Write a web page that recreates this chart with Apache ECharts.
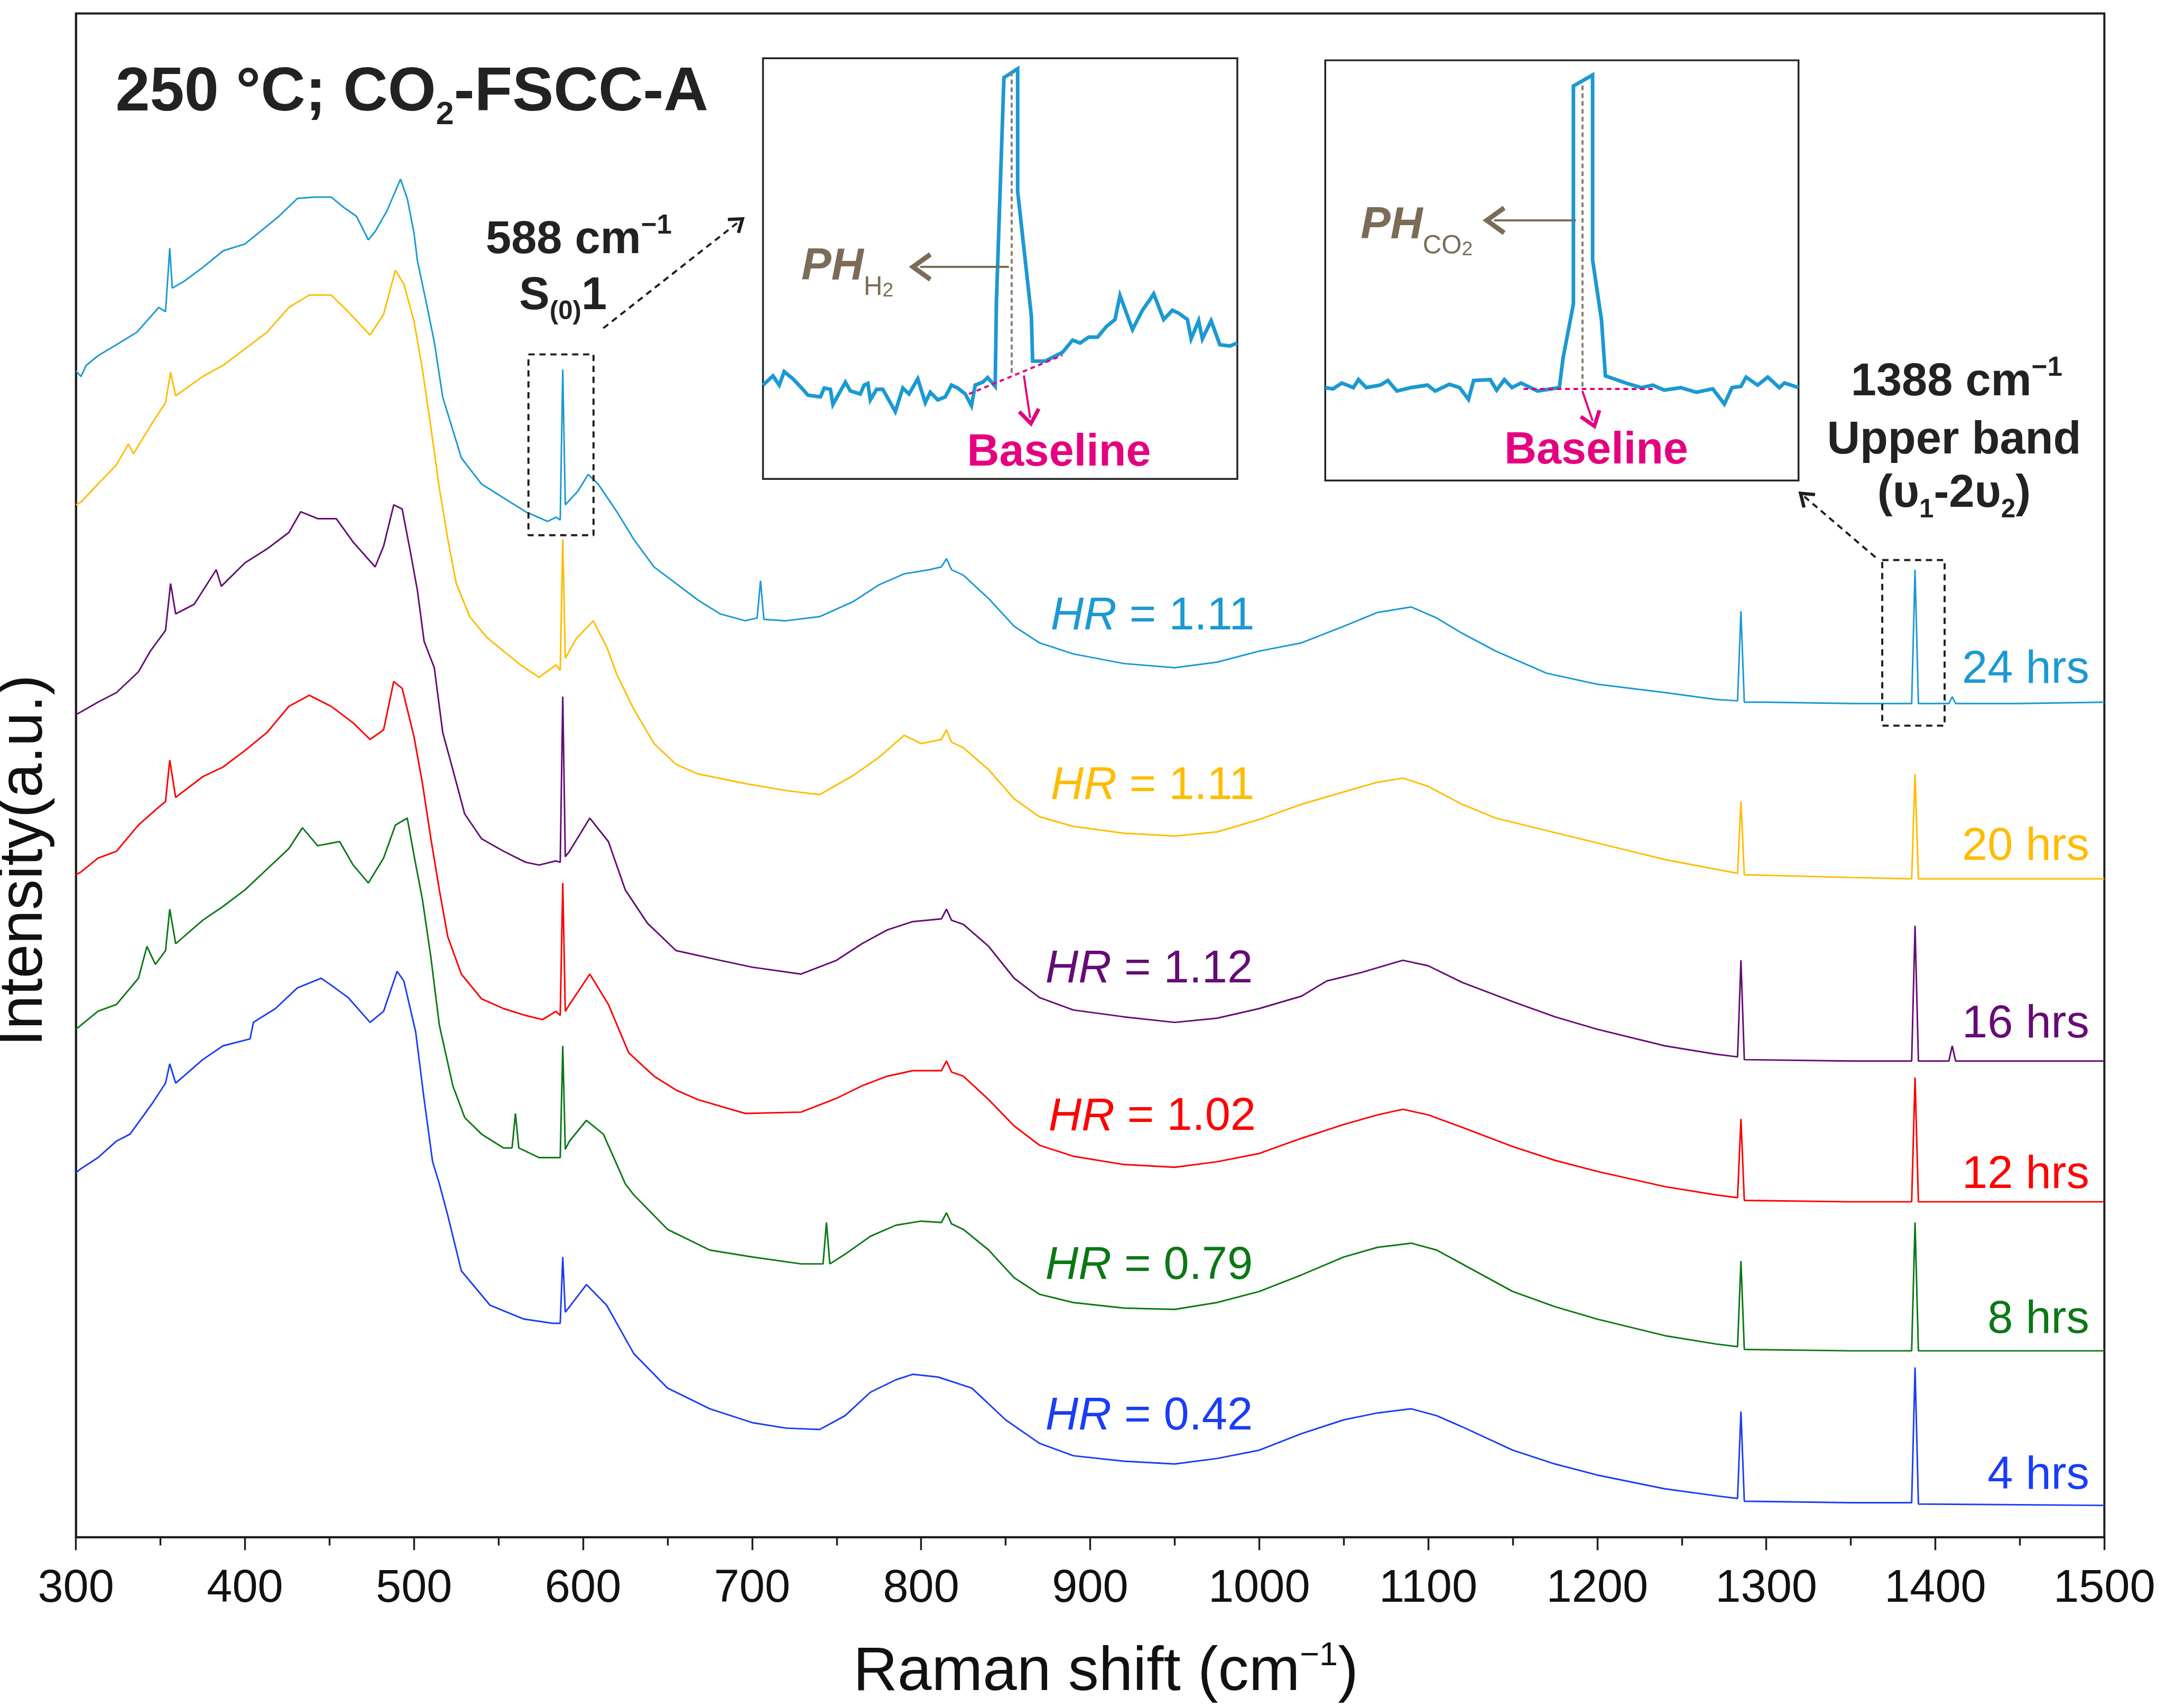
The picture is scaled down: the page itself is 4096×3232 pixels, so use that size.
<!DOCTYPE html>
<html><head><meta charset="utf-8">
<script src="https://cdn.jsdelivr.net/npm/echarts@6/dist/echarts.min.js"></script>
<style>html,body{margin:0;padding:0;background:#fff}#c{width:4096px;height:3232px}</style>
</head><body><div id="c"></div>
<script>
// ---------------- DATA ----------------
const hours = ['24 hrs', '20 hrs', '16 hrs', '12 hrs', '8 hrs', '4 hrs'];
const hrValues = ['1.11', '1.11', '1.12', '1.02', '0.79', '0.42'];
const xRange = [300, 1500];
const xStep = 100;

const spec24 = [[300,845],[303,841],[306,849],[313,856],[324,864],[336,873],[349,891],[353,888],[355.5,934],[357,905],[364,910],[375,920],[387,932],[400,937],[410,947],[420,957],[431,970],[441,971],[451,971],[459,963],[466,957],[473,940],[477,946],[484,961],[492,984],[496,970],[500,945],[502,925],[507,896],[512,866],[517,826],[523,802],[528,782],[540,763],[553,753],[566,743],[579,736],[584,739],[586.5,737],[588,846],[589.5,748],[597,758],[603,770],[609,763],[620,743],[630,723],[642,703],[655,691],[668,679],[681,669],[696,664],[703,666],[705,693],[707,665],[720,664],[740,667],[760,678],[775,690],[790,698],[805,701],[812,703],[815,709],[818,701],[825,697],[840,680],[855,660],[870,648],[890,640],[920,633],[950,630],[975,634],[1000,642],[1025,648],[1050,660],[1070,670],[1090,674],[1105,666],[1120,655],[1140,642],[1170,626],[1200,618],[1240,612],[1270,607],[1283,606],[1285,671],[1287,605],[1300,605],[1350,604],[1386,604],[1388,701],[1390,604],[1408,604],[1410,609],[1412,604],[1450,604],[1500,605]];
const spec20 = [[300,748],[303,750],[313,763],[324,777],[331,792],[334,785],[345,807],[353,822],[356,844],[359,827],[375,841],[387,849],[400,861],[413,873],[426,891],[438,900],[451,900],[461,888],[474,871],[482,886],[489,918],[494,908],[500,881],[505,846],[510,804],[515,760],[520,723],[525,691],[533,667],[543,652],[553,642],[563,632],[574,623],[584,632],[586.5,628],[588,723],[589.5,637],[596,651],[606,664],[614,645],[620,625],[630,600],[642,575],[655,560],[668,553],[696,546],[720,541],[740,538],[760,552],[775,565],[790,581],[800,575],[812,578],[815,585],[818,576],[825,572],[840,556],[855,535],[870,522],[890,515],[920,510],[950,508],[975,511],[1000,520],[1025,531],[1050,540],[1070,547],[1085,550],[1100,544],[1120,531],[1140,521],[1170,512],[1200,503],[1240,491],[1270,484],[1283,481],[1285,533],[1287,480],[1350,478],[1386,477],[1388,553],[1390,477],[1500,477]];
const spec16 = [[300,596],[303,598],[313,605],[324,612],[337,627],[344,642],[353,657],[356,691],[359,669],[370,676],[383,701],[386,689],[400,706],[413,716],[426,728],[433,743],[443,738],[454,738],[464,721],[477,703],[482,718],[488,748],[493,745],[498,713],[502,686],[506,649],[512,630],[517,583],[523,556],[530,524],[540,506],[553,497],[566,489],[574,487],[584,490],[586.5,489],[588,609],[589.5,493],[592,497],[604,521],[615,504],[625,469],[638,445],[655,425],[681,418],[700,413],[729,408],[750,418],[765,430],[780,440],[795,446],[812,448],[815,455],[818,447],[825,444],[840,428],[855,405],[870,391],[890,382],[920,377],[950,373],[975,376],[1000,383],[1025,392],[1040,403],[1060,409],[1085,418],[1100,414],[1120,402],[1150,388],[1175,377],[1200,368],[1240,356],[1270,350],[1283,348],[1285,418],[1287,346],[1350,345],[1386,345],[1388,443],[1390,345],[1408,345],[1410,356],[1412,345],[1500,345]];
const spec12 = [[300,480],[303,482],[313,492],[324,497],[337,516],[349,529],[353,533],[355.5,563],[359,536],[375,551],[387,558],[400,570],[413,583],[426,602],[438,610],[451,602],[464,590],[474,578],[482,585],[488,620],[493,615],[500,580],[505,546],[510,506],[515,469],[520,435],[528,408],[540,390],[553,383],[566,378],[576,375],[584,381],[586.5,378],[588,474],[589.5,381],[592,386],[604,408],[615,386],[627,351],[642,334],[655,324],[668,317],[696,307],[729,308],[750,318],[765,327],[780,334],[795,338],[812,338],[815,345],[818,337],[825,334],[840,317],[855,298],[870,284],[890,276],[920,270],[950,268],[975,272],[1000,278],[1025,289],[1050,299],[1070,306],[1085,310],[1100,306],[1120,297],[1150,283],[1175,273],[1200,265],[1240,254],[1270,248],[1283,246],[1285,303],[1287,244],[1350,243],[1386,243],[1388,333],[1390,243],[1500,243]];
const spec8 = [[300,368],[303,371],[313,381],[324,386],[337,405],[342,428],[347,415],[353,425],[355.5,455],[359,430],[375,447],[387,457],[400,469],[413,484],[426,499],[434,514],[443,501],[456,504],[464,487],[473,474],[482,492],[489,516],[496,521],[500,494],[505,462],[510,420],[515,371],[523,327],[530,304],[540,292],[553,282],[558,282],[560,307],[562,282],[574,275],[584,275],[586.5,275],[588,356],[589.5,281],[592,287],[602,302],[612,292],[620,270],[625,256],[630,248],[650,223],[675,208],[700,203],[729,198],[742,198],[744,228],[746,198],[755,205],[770,218],[785,226],[800,229],[812,228],[815,235],[818,227],[825,223],[840,208],[855,188],[870,176],[890,170],[920,166],[950,165],[975,170],[1000,178],[1025,190],[1050,203],[1070,210],[1090,213],[1105,208],[1120,198],[1150,178],[1175,167],[1200,158],[1240,146],[1270,140],[1283,138],[1285,200],[1287,136],[1350,135],[1386,135],[1388,228],[1390,135],[1500,135]];
const spec4 = [[300,264],[303,267],[313,275],[324,287],[332,292],[345,314],[353,329],[355.5,343],[359,329],[375,346],[387,356],[403,361],[405,373],[418,383],[431,398],[445,405],[451,400],[461,391],[474,373],[482,381],[490,410],[494,403],[501,366],[506,317],[511,272],[515,256],[520,233],[528,193],[545,168],[565,158],[582,155],[586.5,155],[588,203],[589.5,163],[602,183],[614,168],[630,133],[650,108],[675,93],[700,83],[720,79],[740,78],[755,88],[770,105],[785,114],[795,118],[810,116],[830,108],[850,85],[870,68],[890,59],[920,55],[950,53],[975,57],[1000,63],[1025,75],[1050,85],[1070,90],[1090,93],[1105,88],[1120,80],[1150,63],[1175,53],[1200,45],[1240,35],[1270,30],[1283,28],[1285,91],[1287,26],[1350,25],[1386,25],[1388,123],[1390,24],[1500,23]];

// zoomed views (inset units: 0..100)
const inset588 = [[568,22.3],[568.8,24.5],[569.3,22.3],[569.7,25.5],[570.4,23.8],[571.1,21.6],[571.6,19.9],[572.6,19.5],[572.9,21.6],[573.4,21.3],[573.6,17.7],[574.6,23],[575,20.9],[575.8,20.2],[576.1,22.3],[576.4,22.7],[576.6,18.8],[577.1,21.3],[577.6,21.3],[578.6,16],[579.2,21.6],[579.7,20.2],[580.4,23.8],[581,18.1],[581.4,20.6],[582,18.8],[582.6,19.5],[583.1,22.3],[583.6,21.6],[584.2,20.2],[584.7,17.4],[585,22.3],[585.6,23],[586,24.1],[586.6,22],[586.7,42.2],[587.3,95.4],[588.4,97.5],[588.4,68.4],[589.5,38.7],[589.6,28],[590.6,28],[592,30.1],[592.8,33],[593.4,32.3],[594.1,33.7],[594.8,33.7],[595.5,36.2],[596.2,37.9],[596.6,43.6],[597.6,35.5],[598.4,40.1],[598.9,42.2],[599.3,44],[600.1,37.9],[600.8,40.1],[601.3,39.4],[602,37.9],[602.3,33.3],[602.9,37.6],[603.2,33.3],[603.9,37.6],[604.6,31.9],[605.4,31.6],[606,32.3]];
const inset1388 = [[1369,22.1],[1369.6,21.8],[1370.3,23.2],[1371.2,22.1],[1371.6,24],[1372.2,22.1],[1373.3,22.7],[1373.9,23.8],[1374.6,21.3],[1375.7,22.1],[1377,22.7],[1377.6,21.3],[1378.7,22.9],[1379.5,22.1],[1380.2,19.3],[1380.6,23.8],[1381.9,24],[1382.4,21.5],[1383,24],[1383.6,22.1],[1384.3,23.2],[1385.6,21.3],[1387.3,22.1],[1387.6,29.3],[1388.4,42],[1388.4,93.9],[1389.9,96.5],[1389.9,52.5],[1390.6,38.1],[1390.9,24.9],[1392.5,23.2],[1393.7,22.1],[1394.6,22.7],[1395.5,21.5],[1396.8,22.1],[1398,21],[1399.3,21.8],[1400.2,18.2],[1400.8,22.1],[1401.5,22.4],[1401.9,24.6],[1402.8,22.7],[1403.6,24.6],[1404.5,22.1],[1404.9,23.2],[1406,22.1]];

// annotation geometry in data units
const box588 = [[567.7,857],[606.2,857],[606.2,726],[567.7,726],[567.7,857]];
const box1388 = [[1368.6,708],[1405.5,708],[1405.5,588],[1368.6,588],[1368.6,708]];
const arrow588 = [[612,876],[692,953]];
const arrow1388 = [[1364.6,710],[1322.5,754]];
const in1Peak = [[587.9,96.8],[587.9,24.8]];
const in1Base = [[584.5,20.2],[592,29.4]];
const in1Down = [[588.9,24.6],[589.4,14.5]];
const in1Left = [[587.7,50.4],[580.6,50.4]];
const in2Peak = [[1389.1,94],[1389.1,22]];
const in2Base = [[1384.5,21.8],[1394.6,21.8]];
const in2Down = [[1389.1,21.3],[1389.9,14.2]];
const in2Left = [[1388.6,61.9],[1382.2,61.9]];

// ---------------- STYLE ----------------
const S = 0.984;
const s = v => v * S;
const FONT = "'Liberation Sans', Arial, Helvetica, sans-serif";
const f = (size, weight, style) => `${style || 'normal'} ${weight || 'normal'} ${s(size)}px ${FONT}`;
const colors = ['#1a99d3', '#ffbc00', '#650b76', '#ff0000', '#0b7815', '#1a3df5'];
const PINK = '#e4007f', BROWN = '#7b6c58', DARK = '#1e1e1e';
const CHEV = 'path://M50,0 L100,88 L86,100 L50,36 L14,100 L0,88 Z';

const specs = [spec24, spec20, spec16, spec12, spec8, spec4];

const chart = echarts.init(document.getElementById('c'), null, {renderer: 'canvas'});

function ml(pts, lineStyle, endSym, endSize) {
  return [
    {coord: pts[0], lineStyle: lineStyle, symbol: 'none'},
    {coord: pts[1], symbol: endSym || 'none', symbolSize: endSize || 0}
  ];
}

const series = specs.map((d, i) => ({
  type: 'line', name: hours[i], xAxisIndex: 0, yAxisIndex: 0, data: d,
  showSymbol: false, symbol: 'none', silent: true, z: 3 + i,
  lineStyle: {color: colors[i], width: s(3)}
}));

const dashMain = {type: [s(12), s(9)], width: s(4), color: DARK};
series.push({
  type: 'line', xAxisIndex: 0, yAxisIndex: 0, data: box588, showSymbol: false, symbol: 'none', silent: true, z: 10,
  lineStyle: dashMain,
  markLine: {silent: true, symbol: 'none', label: {show: false}, animation: false,
    data: [ml(arrow588, dashMain, CHEV, [s(38), s(30)])]}
});
series.push({
  type: 'line', xAxisIndex: 0, yAxisIndex: 0, data: box1388, showSymbol: false, symbol: 'none', silent: true, z: 10,
  lineStyle: dashMain,
  markLine: {silent: true, symbol: 'none', label: {show: false}, animation: false,
    data: [ml(arrow1388, dashMain, CHEV, [s(38), s(30)])]}
});

function insetSeries(idx, data, peak, base, down, left) {
  return {
    type: 'line', xAxisIndex: idx, yAxisIndex: idx, data: data, showSymbol: false, symbol: 'none', silent: true, z: 20,
    lineStyle: {color: '#1a99d3', width: s(7), join: 'miter'},
    markLine: {silent: true, symbol: 'none', label: {show: false}, animation: false, z: 21,
      data: [
        ml(peak, {color: '#8c7f70', type: [s(9), s(6)], width: s(4)}),
        ml(base, {color: PINK, type: [s(9), s(7)], width: s(4)}),
        ml(down, {color: PINK, type: 'solid', width: s(4)}, CHEV, [s(44), s(34)]),
        ml(left, {color: BROWN, type: 'solid', width: s(4)}, CHEV, [s(56), s(44)])
      ]}
  };
}
series.push(insetSeries(1, inset588, in1Peak, in1Base, in1Down, in1Left));
series.push(insetSeries(2, inset1388, in2Peak, in2Base, in2Down, in2Left));

// ---------------- TEXT ----------------
const texts = [];
function T(x, y, text, font, fill, align, extra) {
  const el = {type: 'text', x: s(x), y: s(y), z: 100, silent: true,
    style: Object.assign({text: text, font: font, fill: fill, align: align || 'left', verticalAlign: 'middle'}, extra || {})};
  texts.push(el);
  return el;
}
// title
T(222, 180, '250 °C; CO{sub|2}-FSCC-A', f(119, 'bold'), '#222', 'left', {
  lineHeight: s(145), rich: {sub: {font: f(62, 'bold'), fill: '#222', lineHeight: s(62), verticalAlign: 'bottom'}}});
// axis titles
T(2126, 3217, 'Raman shift (cm{sup|−1})', f(118), '#111', 'center', {
  lineHeight: s(128), rich: {sup: {font: f(64), fill: '#111', lineHeight: s(64), verticalAlign: 'top'}}});
const yt = T(48, 1655, 'Intensity(a.u.)', f(118), '#111', 'center');
yt.rotation = Math.PI / 2;
// peak annotations
T(934, 463, '588 cm{sup|−1}', f(88, 'bold'), '#222', 'left', {
  lineHeight: s(108), rich: {sup: {font: f(52, 'bold'), fill: '#222', lineHeight: s(52), verticalAlign: 'top'}}});
T(998, 570, 'S{sub|(0)}1', f(88, 'bold'), '#222', 'left', {
  lineHeight: s(110), rich: {sub: {font: f(50, 'bold'), fill: '#222', lineHeight: s(50), verticalAlign: 'bottom'}}});
T(3762, 736, '1388 cm{sup|−1}', f(88, 'bold'), '#222', 'center', {
  lineHeight: s(108), rich: {sup: {font: f(52, 'bold'), fill: '#222', lineHeight: s(52), verticalAlign: 'top'}}});
T(3757, 848, 'Upper band', f(88, 'bold'), '#222', 'center');
T(3757, 950, '(υ{sub|1}-2υ{sub|2})', f(88, 'bold'), '#222', 'center', {
  lineHeight: s(112), rich: {sub: {font: f(50, 'bold'), fill: '#222', lineHeight: s(50), verticalAlign: 'bottom'}}});
// inset labels
T(2036, 872, 'Baseline', f(86, 'bold'), PINK, 'center');
T(3069, 868, 'Baseline', f(86, 'bold'), PINK, 'center');
T(1541, 514, 'PH{s|H}{ss|2}', f(86, 'bold', 'italic'), BROWN, 'left', {
  lineHeight: s(128), rich: {s: {font: f(50), fill: BROWN, lineHeight: s(50), verticalAlign: 'bottom'},
                             ss: {font: f(38), fill: BROWN, lineHeight: s(38), verticalAlign: 'bottom'}}});
T(2616, 435, 'PH{s|CO}{ss|2}', f(86, 'bold', 'italic'), BROWN, 'left', {
  lineHeight: s(128), rich: {s: {font: f(50), fill: BROWN, lineHeight: s(50), verticalAlign: 'bottom'},
                             ss: {font: f(38), fill: BROWN, lineHeight: s(38), verticalAlign: 'bottom'}}});
// series labels
const hrLeft = [2020, 2020, 2010, 2016, 2010, 2010];
const hrY = [1186, 1512, 1865, 2149, 2435, 2725];
const hrsY = [1289, 1629, 1971, 2260, 2539, 2839];
hours.forEach((h, i) => {
  T(hrLeft[i], hrY[i], '{i|HR} = ' + hrValues[i], f(88), colors[i], 'left', {
    rich: {i: {font: f(88, 'normal', 'italic'), fill: colors[i]}}});
  T(4017, hrsY[i], h, f(88), colors[i], 'right');
});

const axisDark = {color: DARK, width: s(4)};
const option = {
  animation: false,
  backgroundColor: '#ffffff',
  grid: [
    {left: s(146), top: s(26), width: s(4046 - 146), height: s(2956 - 26), show: true, borderColor: DARK, borderWidth: s(4), backgroundColor: 'transparent'},
    {left: s(1467), top: s(112), width: s(2379 - 1467), height: s(921 - 112), show: true, borderColor: '#222', borderWidth: s(3.5), backgroundColor: '#ffffff'},
    {left: s(2548), top: s(116), width: s(3458 - 2548), height: s(924 - 116), show: true, borderColor: '#222', borderWidth: s(3.5), backgroundColor: '#ffffff'}
  ],
  xAxis: [
    {gridIndex: 0, type: 'value', min: xRange[0], max: xRange[1], interval: xStep,
      axisLine: {show: true, onZero: false, lineStyle: axisDark},
      axisTick: {show: true, inside: false, length: s(25), lineStyle: {color: DARK, width: s(3.5)}},
      minorTick: {show: true, splitNumber: 2, length: s(16), lineStyle: {color: DARK, width: s(3.5)}},
      splitLine: {show: false}, minorSplitLine: {show: false},
      axisLabel: {fontSize: s(88), fontFamily: FONT, color: '#111', margin: s(56), formatter: v => String(v)}},
    {gridIndex: 1, type: 'value', min: 568, max: 606, show: false, splitLine: {show: false}},
    {gridIndex: 2, type: 'value', min: 1369, max: 1406, show: false, splitLine: {show: false}}
  ],
  yAxis: [
    {gridIndex: 0, type: 'value', min: 0, max: 1104,
      axisLine: {show: true, onZero: false, lineStyle: axisDark},
      axisTick: {show: false}, axisLabel: {show: false}, splitLine: {show: false}},
    {gridIndex: 1, type: 'value', min: 0, max: 100, show: false, splitLine: {show: false}},
    {gridIndex: 2, type: 'value', min: 0, max: 100, show: false, splitLine: {show: false}}
  ],
  series: series,
  graphic: {elements: texts}
};
chart.setOption(option);
</script></body></html>
